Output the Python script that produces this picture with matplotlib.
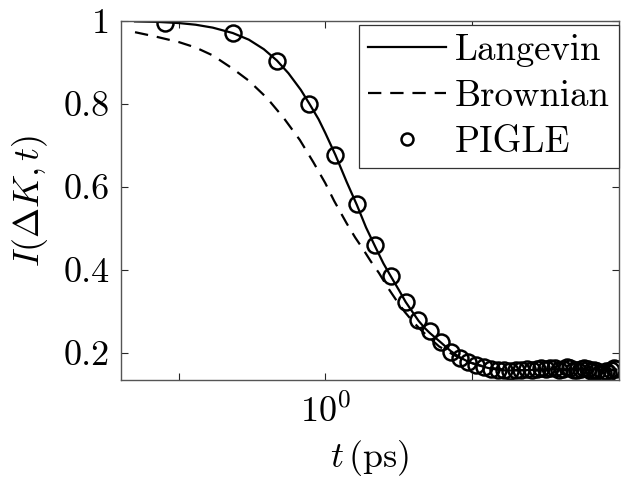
import matplotlib
matplotlib.use("Agg")
import matplotlib.pyplot as plt
import numpy as np

plt.rcParams['font.family'] = 'serif'
plt.rcParams['font.serif'] = ['cmr10']
plt.rcParams['mathtext.fontset'] = 'cm'
plt.rcParams['axes.formatter.use_mathtext'] = True
plt.rcParams['axes.unicode_minus'] = False

# Langevin (solid line)
lang_t = [0.05, 0.07, 0.1, 0.13, 0.17, 0.233, 0.3, 0.38, 0.466, 0.56, 0.68, 0.78, 0.9, 1.0,
          1.173, 1.4, 1.646, 1.9, 2.2, 2.5, 2.83, 3.2, 3.55, 3.95, 4.34, 4.8, 5.2, 5.7,
          6.2, 7.2, 8.3, 9.5, 11.0, 13.0, 15.0, 17.0, 20.0, 25.0, 32.0, 40.0, 55.0, 75.0, 98.0]
lang_I = [0.999, 0.998, 0.995, 0.991, 0.984, 0.971, 0.955, 0.932, 0.905, 0.874, 0.834, 0.800, 0.763, 0.730,
          0.677, 0.612, 0.556, 0.502, 0.455, 0.415, 0.382, 0.350, 0.322, 0.298, 0.277, 0.259, 0.247, 0.235,
          0.224, 0.204, 0.189, 0.178, 0.170, 0.163, 0.159, 0.157, 0.157, 0.158, 0.160, 0.160, 0.160, 0.159, 0.159]

# Brownian (dashed line)
brown_t = [0.05, 0.07, 0.1, 0.13, 0.17, 0.235, 0.3, 0.4, 0.52, 0.67, 0.83, 1.0, 1.15, 1.4, 1.6, 1.81,
           2.05, 2.33, 2.7, 3.08, 3.5, 3.97, 4.5, 5.0, 6.0, 7.5, 10.0, 13.0, 17.0, 25.0, 40.0, 70.0, 98.0]
brown_I = [0.973, 0.962, 0.949, 0.936, 0.917, 0.884, 0.856, 0.814, 0.766, 0.713, 0.659, 0.609, 0.566, 0.512, 0.478, 0.450,
           0.420, 0.392, 0.355, 0.325, 0.298, 0.275, 0.255, 0.240, 0.215, 0.195, 0.175, 0.164, 0.159, 0.157, 0.158, 0.158, 0.158]

# PIGLE (circles)
pigle_t = [0.080, 0.233, 0.466, 0.780, 1.173, 1.646, 2.199, 2.832, 3.546, 4.339, 5.212, 6.165,
           7.199, 8.312, 9.505, 10.78, 12.13, 13.56, 15.08, 16.67, 18.34, 20.10, 21.93, 23.84,
           25.84, 27.91, 30.06, 32.30, 34.61, 37.00, 39.48, 42.03, 44.66, 47.38, 50.17, 53.04,
           56.00, 59.03, 62.14, 65.34, 68.61, 71.96, 75.39, 78.91, 82.50, 86.17, 89.93, 93.76, 97.67]
pigle_I = [0.996, 0.970, 0.904, 0.800, 0.677, 0.559, 0.460, 0.385, 0.323, 0.279, 0.251, 0.226,
           0.202, 0.188, 0.178, 0.170, 0.165, 0.161, 0.158, 0.157, 0.156, 0.157, 0.158, 0.160,
           0.158, 0.161, 0.163, 0.160, 0.164, 0.162, 0.158, 0.161, 0.165, 0.163, 0.159, 0.157,
           0.160, 0.163, 0.161, 0.156, 0.158, 0.155, 0.152, 0.150, 0.156, 0.152, 0.158, 0.162, 0.160]

xticks = [0.1, 1.0, 10.0]
xticklabels = ['', r'$10^{0}$', '']
yticks = [0.2, 0.4, 0.6, 0.8, 1.0]
yticklabels = ['0.2', '0.4', '0.6', '0.8', '1']

FS = 26

fig = plt.figure(figsize=(6.21, 4.78), dpi=100)
ax = fig.add_axes([121/621, 1-380/478, (619-121)/621, (380-21)/478])

ax.plot(lang_t, lang_I, '-', color='k', lw=1.6, label='Langevin')
ax.plot(brown_t, brown_I, '--', color='k', lw=1.6, dashes=(6, 4), label='Brownian')
ax.plot(pigle_t, pigle_I, 'o', mfc='none', mec='k', ms=11.5, mew=1.8, label='PIGLE')

ax.set_xscale('log')
ax.set_xlim(0.0401, 102)
ax.set_ylim(0.134, 1.0)
ax.set_xticks(xticks)
ax.set_xticklabels(xticklabels)
ax.xaxis.set_minor_locator(matplotlib.ticker.NullLocator())
ax.set_yticks(yticks)
ax.set_yticklabels(yticklabels)

ax.tick_params(direction='in', length=5, width=0.8, color='#262626', labelsize=FS,
               top=True, right=True)
ax.tick_params(axis='x', pad=10)
ax.tick_params(axis='y', pad=8)
for s in ax.spines.values():
    s.set_color('#555555')
    s.set_linewidth(1.0)

ax.set_xlabel(r'$t\,(\mathrm{ps})$', fontsize=FS, labelpad=6)
ax.set_ylabel(r'$I(\Delta K,t)$', fontsize=FS, labelpad=10)

leg = ax.legend(loc='upper right', bbox_to_anchor=(1.0, 0.99), fontsize=26.5, frameon=True,
                fancybox=False, edgecolor='#333333', framealpha=1, borderaxespad=0.0,
                handlelength=2.1, handletextpad=0.25, labelspacing=0.35, borderpad=0.25,
                markerscale=0.75)
leg.get_frame().set_linewidth(0.9)

fig.savefig('out.png', dpi=100)
